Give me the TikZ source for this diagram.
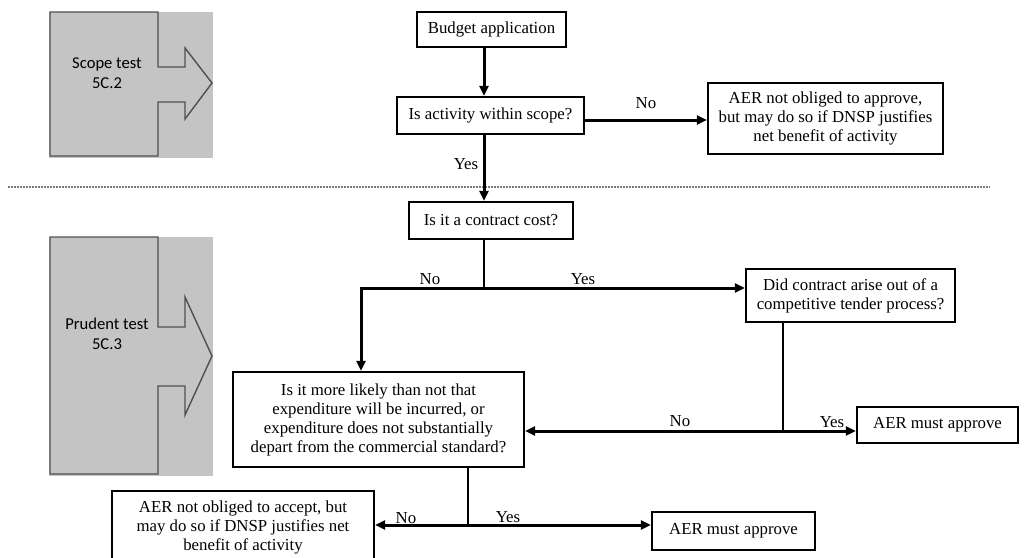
\documentclass[tikz,border=0pt]{standalone}
\usepackage{fontspec}
\setmainfont{Liberation Serif}
\newfontfamily\calfont{Carlito}
\usetikzlibrary{arrows.meta}
\definecolor{panelgray}{HTML}{C4C4C4}
\definecolor{paneledge}{HTML}{505050}
\definecolor{dotgray}{HTML}{7A7A7A}
\begin{document}
\begin{tikzpicture}[x=1pt,y=-1pt,
  box/.style={draw=black, line width=2.2pt, fill=white, align=center, inner sep=0pt,
    font=\fontsize{16.8}{19}\selectfont},
  flow/.style={line width=3pt, -{Triangle[length=10pt,width=9pt]}},
  plain/.style={line width=1.9pt},
  lbl/.style={font=\fontsize{16.8}{19}\selectfont, inner sep=0pt},
  paneltext/.style={font=\calfont\fontsize{16.6}{20}\selectfont, align=center, inner sep=0pt},
  paneloutline/.style={draw=paneledge, line width=1.4pt, line join=miter}
]
\useasboundingbox (0,0) rectangle (1024,557);
\clip (0,0) rectangle (1024,557);

% --- side panels ---
\fill[panelgray] (49,12) rectangle (213,158);
\draw[paneloutline] (50,12) -- (158,12) -- (158,67) -- (185,67) -- (185,48) -- (212,83)
  -- (185,119) -- (185,102) -- (158,102) -- (158,156) -- (50,156) -- cycle;
\node[paneltext] (scopetest) at (107,73) {Scope test\\5C.2};

\fill[panelgray] (49,237) rectangle (213,476);
\draw[paneloutline] (50,237) -- (158,237) -- (158,327) -- (185,327) -- (185,297) -- (212,356)
  -- (185,415) -- (185,386) -- (158,386) -- (158,474) -- (50,474) -- cycle;
\node[paneltext] (prudenttest) at (107,334) {Prudent test\\5C.3};

% --- separator ---
\draw[dotgray, line width=2.4pt, dash pattern=on 1.8pt off 1.2pt] (8,187) -- (990,187);

% --- boxes ---
\node[box, minimum width=149pt, minimum height=35pt] (budget) at (491.5,29.5) {Budget application};
\node[box, minimum width=187pt, minimum height=37pt] (scope) at (490.5,115.5) {Is activity within scope?};
\node[box, minimum width=235pt, minimum height=71pt] (aer1) at (825.5,118.5)
  {AER not obliged to approve,\\but may do so if DNSP justifies\\net benefit of activity};
\node[box, minimum width=164pt, minimum height=37pt] (contract) at (491,220.5) {Is it a contract cost?};
\node[box, minimum width=209pt, minimum height=53pt] (tender) at (850.5,295.5)
  {Did contract arise out of a\\competitive tender process?};
\node[box, minimum width=291pt, minimum height=95pt] (likely) at (378.5,419.5)
  {Is it more likely than not that\\expenditure will be incurred, or\\expenditure does not substantially\\depart from the commercial standard?};
\node[box, minimum width=161pt, minimum height=36pt] (aer2) at (937.5,425) {AER must approve};
\node[box, minimum width=262pt, minimum height=72pt] (reject) at (243,527)
  {AER not obliged to accept, but\\may do so if DNSP justifies net\\benefit of activity};
\node[box, minimum width=163pt, minimum height=38pt] (aer3) at (733.5,531) {AER must approve};

% --- helper coordinates ---
\coordinate (spine) at (484,0);
\coordinate (row1) at (0,120);
\coordinate (j1) at (484,288);
\coordinate (nocorner) at (361,288);
\coordinate (j2) at (783,431);
\coordinate (j3) at (468,525);

% --- connectors ---
\draw[flow] (budget.south -| spine) -- (scope.north -| spine);
\draw[flow] (scope.east |- row1) -- (aer1.west |- row1);
\draw[flow] (scope.south -| spine) -- (contract.north -| spine);
\draw[plain] (contract.south -| spine) -- (j1);
\draw[flow] (j1) -- (tender.west |- j1);
\draw[flow] (j1) -- (nocorner) -- (likely.north -| nocorner);
\draw[plain] (tender.south -| j2) -- (j2);
\draw[flow] (j2) -- (likely.east |- j2);
\draw[flow] (j2) -- (aer2.west |- j2);
\draw[plain] (likely.south -| j3) -- (j3);
\draw[flow] (j3) -- (reject.east |- j3);
\draw[flow] (j3) -- (aer3.west |- j3);

% --- labels ---
\node[lbl] (lno1) at (646,103) {No};
\node[lbl] (lyes1) at (466,164) {Yes};
\node[lbl] (lno2) at (430,279) {No};
\node[lbl] (lyes2) at (583,279) {Yes};
\node[lbl] (lno3) at (680,421) {No};
\node[lbl] (lyes3) at (832,422) {Yes};
\node[lbl] (lno4) at (406,518) {No};
\node[lbl] (lyes4) at (508,517) {Yes};
\end{tikzpicture}
\end{document}
